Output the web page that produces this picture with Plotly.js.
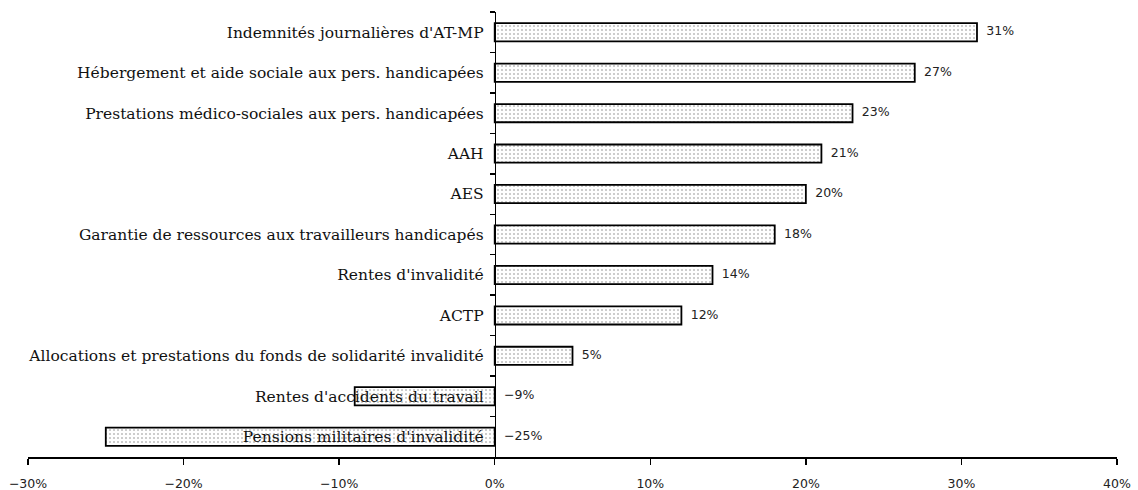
<!DOCTYPE html>
<html>
<head>
<meta charset="utf-8">
<script src="https://cdn.plot.ly/plotly-3.0.1.min.js"></script>
<style>html,body{margin:0;padding:0;background:#fff;}#chart{width:1138px;height:490px;}</style>
</head>
<body>
<div id="chart"></div>
<script>
const categories = [
  "Indemnités journalières d'AT-MP",
  "Hébergement et aide sociale aux pers. handicapées",
  "Prestations médico-sociales aux pers. handicapées",
  "AAH",
  "AES",
  "Garantie de ressources aux travailleurs handicapés",
  "Rentes d'invalidité",
  "ACTP",
  "Allocations et prestations du fonds de solidarité invalidité",
  "Rentes d'accidents du travail",
  "Pensions militaires d'invalidité"
];
const values = [31, 27, 23, 21, 20, 18, 14, 12, 5, -9, -25];
const xTickValues = [-30, -20, -10, 0, 10, 20, 30, 40];
const xTickLabels = ["−30%", "−20%", "−10%", "0%", "10%", "20%", "30%", "40%"];

const xMin = -30, xMax = 40;
const fmt = v => (v < 0 ? "−" + Math.abs(v) : String(v)) + "%";

const bars = {
  type: 'bar',
  orientation: 'h',
  y: categories,
  x: values,
  width: 0.45,
  marker: {
    color: '#ffffff',
    line: {color: '#000000', width: 1.8},
    pattern: {shape: '.', fgcolor: '#bdbdbd', bgcolor: '#ffffff', size: 4, solidity: 0.2, fillmode: 'replace'}
  },
  hoverinfo: 'none',
  showlegend: false
};

const labels = {
  type: 'scatter',
  mode: 'text',
  y: categories,
  x: values.map(v => Math.max(v, 0) + 0.6),
  text: values.map(fmt),
  textposition: 'middle right',
  textfont: {family: 'DejaVu Sans', size: 12.5, color: '#222222'},
  hoverinfo: 'none',
  showlegend: false,
  cliponaxis: false
};

const layout = {
  width: 1138,
  height: 490,
  margin: {l: 28, r: 21, t: 12, b: 33},
  paper_bgcolor: '#ffffff',
  plot_bgcolor: '#ffffff',
  showlegend: false,
  xaxis: {
    range: [xMin, xMax],
    tickvals: xTickValues,
    ticktext: xTickLabels,
    ticks: 'outside',
    ticklen: 6,
    tickwidth: 1.5,
    tickcolor: '#000',
    showline: true,
    linecolor: '#000',
    linewidth: 1.5,
    showgrid: false,
    zeroline: false,
    ticklabelstandoff: 8,
    tickfont: {family: 'DejaVu Sans', size: 12.5, color: '#222'},
    fixedrange: true
  },
  yaxis: {
    type: 'category',
    range: [categories.length - 0.5, -0.5],
    anchor: 'free',
    position: (0 - xMin) / (xMax - xMin),
    ticks: 'outside',
    tickson: 'boundaries',
    ticklen: 5,
    tickwidth: 1.5,
    tickcolor: '#000',
    showline: true,
    linecolor: '#000',
    linewidth: 1.5,
    showgrid: false,
    zeroline: false,
    ticklabelstandoff: 8,
    tickfont: {family: 'DejaVu Serif', size: 15.5, color: '#111'},
    fixedrange: true
  }
};

Plotly.newPlot('chart', [bars, labels], layout, {displayModeBar: false, staticPlot: true});
</script>
</body>
</html>
